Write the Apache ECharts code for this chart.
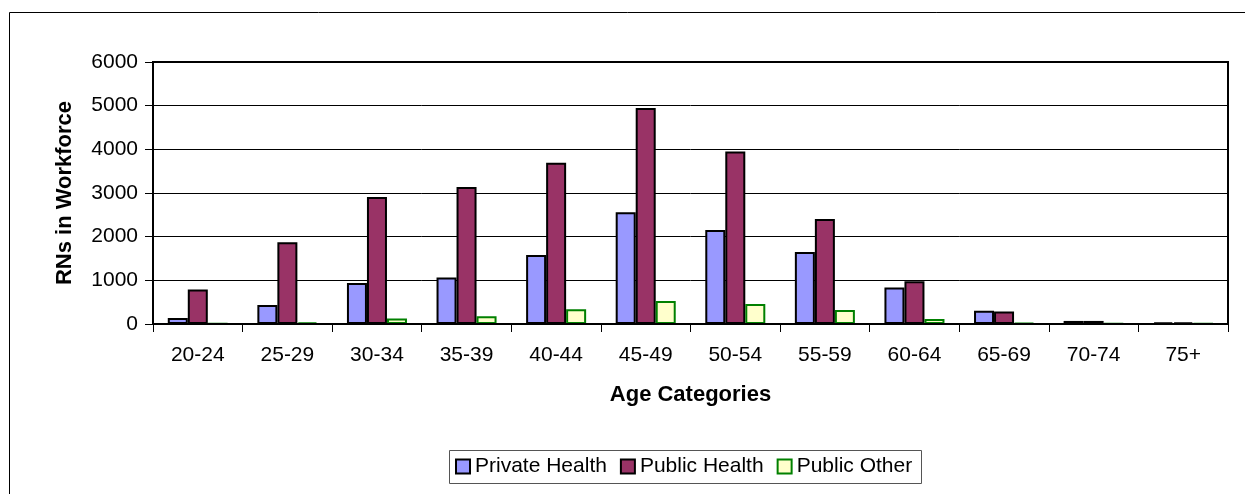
<!DOCTYPE html>
<html><head><meta charset="utf-8">
<script src="https://cdn.jsdelivr.net/npm/echarts@6/dist/echarts.min.js"></script>
<style>html,body{margin:0;padding:0;background:#fff}#c{width:1245px;height:494px}</style>
</head><body><div id="c"></div>
<script>
const categories = ['20-24','25-29','30-34','35-39','40-44','45-49','50-54','55-59','60-64','65-69','70-74','75+'];
const privateHealth = [135, 435, 940, 1065, 1580, 2560, 2155, 1650, 835, 305, 70, 40];
const publicHealth  = [790, 1870, 2910, 3140, 3690, 4945, 3950, 2405, 980, 285, 70, 40];
const publicOther   = [10, 40, 125, 180, 335, 525, 460, 320, 115, 25, 15, 10];
const yTicks = [0, 1000, 2000, 3000, 4000, 5000, 6000];

const chart = echarts.init(document.getElementById('c'), null, {renderer:'canvas'});
const font = 'Arial, "Liberation Sans", sans-serif';
chart.setOption({
  animation:false,
  backgroundColor:'#fff',
  graphic:[
    {type:'rect', shape:{x:9.5,y:12.5,width:1300,height:600}, style:{fill:'none',stroke:'#000',lineWidth:1}, z:-1},
    {type:'rect', shape:{x:153,y:62,width:1075,height:262}, style:{fill:'none',stroke:'#000',lineWidth:2}, z:10},
    {type:'rect', shape:{x:449.5,y:450.5,width:472,height:33}, style:{fill:'#fff',stroke:'#555',lineWidth:1}, z:1}
  ],
  grid:{left:153, top:62, right:17, bottom:170, containLabel:false},
  legend:{
    top:456, left:455, itemWidth:14, itemHeight:14, itemGap:13, padding:0,
    icon:'rect', z:5,
    textStyle:{fontFamily:font, fontSize:21, color:'#000'},
    data:['Private Health','Public Health','Public Other']
  },
  xAxis:{
    type:'category', data:categories,
    name:'Age Categories', nameLocation:'middle', nameGap:60,
    nameTextStyle:{fontFamily:font, fontSize:22, fontWeight:'bold', color:'#000'},
    axisLine:{lineStyle:{color:'#000', width:2}},
    axisTick:{show:true, length:8, lineStyle:{color:'#000', width:1}},
    axisLabel:{fontFamily:font, fontSize:21, color:'#000', margin:21},
    splitLine:{show:false}
  },
  yAxis:{
    type:'value', min:yTicks[0], max:yTicks[yTicks.length-1], interval:1000,
    name:'RNs in Workforce', nameLocation:'middle', nameGap:77, nameRotate:90,
    nameTextStyle:{fontFamily:font, fontSize:22, fontWeight:'bold', color:'#000'},
    axisLine:{show:true, lineStyle:{color:'#000', width:2}},
    axisTick:{show:true, length:8, lineStyle:{color:'#000', width:1}},
    axisLabel:{fontFamily:font, fontSize:21, color:'#000', margin:15, formatter:v=>String(v)},
    splitLine:{show:true, lineStyle:{color:'#000', width:1}}
  },
  series:[
    {name:'Private Health', type:'bar', data:privateHealth, barGap:'0%', barCategoryGap:'33%',
     itemStyle:{color:'#9999FF', borderColor:'#000', borderWidth:2}},
    {name:'Public Health', type:'bar', data:publicHealth, barGap:'0%', barCategoryGap:'33%',
     itemStyle:{color:'#993366', borderColor:'#000', borderWidth:2}},
    {name:'Public Other', type:'bar', data:publicOther, barGap:'0%', barCategoryGap:'33%',
     itemStyle:{color:'#FFFFCC', borderColor:'#008000', borderWidth:2}}
  ]
});
</script></body></html>
